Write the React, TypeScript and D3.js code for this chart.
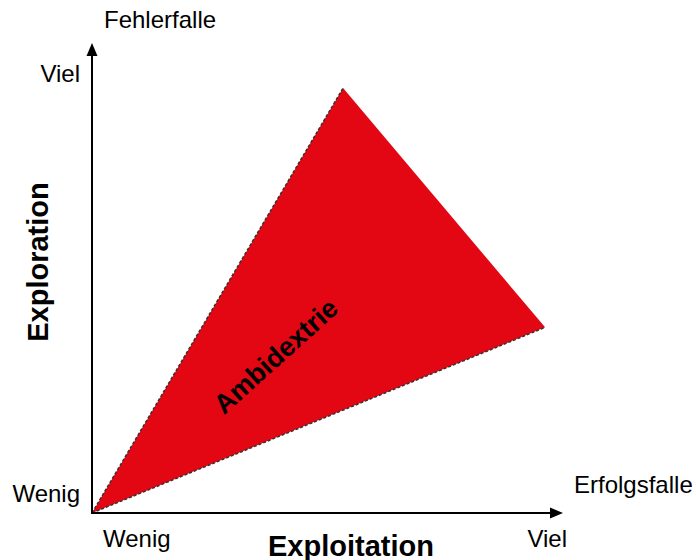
import React from 'react';
import * as d3 from 'd3';

// Triangle corners in axis units (0 = wenig, 100 = viel)
const cornerNames = ['Ursprung', 'Fehlerfalle', 'Erfolgsfalle'];
const cornerX = [0, 53.3, 96.2];
const cornerY = [0, 90.4, 39.5];

const tickLabelsX = ['Wenig', 'Viel'];
const tickLabelsY = ['Wenig', 'Viel'];

const width = 696;
const height = 560;
const font = 'Liberation Sans, Arial, sans-serif';

const App = () => {
  const x = d3.scaleLinear().domain([0, 100]).range([92, 563]);
  const y = d3.scaleLinear().domain([0, 100]).range([513, 43]);

  const pts: [number, number][] = cornerNames.map((_, i) => [x(cornerX[i]), y(cornerY[i])]);
  const area = d3.line()(pts.concat([pts[0]])) + 'Z';
  const leftEdge = d3.line()([pts[0], pts[1]]);
  const lowerEdge = d3.line()([pts[0], pts[2]]);

  const ox = x(0);
  const oy = y(0);

  return (
    <svg width={width} height={height} style={{ position: 'absolute', left: 0, top: 0, background: '#fff' }}>
      <path d={area} fill="#e30613" />
      <path d={leftEdge} stroke="#333" strokeWidth={1.5} strokeDasharray="3,2" fill="none" />
      <path d={lowerEdge} stroke="#333" strokeWidth={1.5} strokeDasharray="3,2" fill="none" />

      {/* axes */}
      <line x1={ox} y1={oy + 1} x2={ox} y2={y(100) + 10} stroke="#000" strokeWidth={2} />
      <path d={`M${ox - 5.5},${y(100) + 13}L${ox},${y(100)}L${ox + 5.5},${y(100) + 13}Z`} fill="#000" />
      <line x1={ox - 1} y1={oy} x2={x(100) - 10} y2={oy} stroke="#000" strokeWidth={2} />
      <path d={`M${x(100) - 13},${oy - 5.5}L${x(100)},${oy}L${x(100) - 13},${oy + 5.5}Z`} fill="#000" />

      {/* y ticks */}
      <text x={80} y={502} textAnchor="end" fontFamily={font} fontSize={24}>{tickLabelsY[0]}</text>
      <text x={80} y={82} textAnchor="end" fontFamily={font} fontSize={24}>{tickLabelsY[1]}</text>
      {/* x ticks */}
      <text x={103} y={547} fontFamily={font} fontSize={24}>{tickLabelsX[0]}</text>
      <text x={567} y={547} textAnchor="end" fontFamily={font} fontSize={24}>{tickLabelsX[1]}</text>

      {/* corner labels */}
      <text x={104} y={28} fontFamily={font} fontSize={24}>{cornerNames[1]}</text>
      <text x={574} y={493} fontFamily={font} fontSize={24}>{cornerNames[2]}</text>

      {/* axis titles */}
      <text x={351} y={556} textAnchor="middle" fontFamily={font} fontSize={29} fontWeight="bold">Exploitation</text>
      <text transform="translate(48,262) rotate(-90)" textAnchor="middle" fontFamily={font} fontSize={29} fontWeight="bold">Exploration</text>

      <text transform="translate(282,363) rotate(-42)" textAnchor="middle" fontFamily={font} fontSize={27} fontWeight="bold">Ambidextrie</text>
    </svg>
  );
};

export default App;
